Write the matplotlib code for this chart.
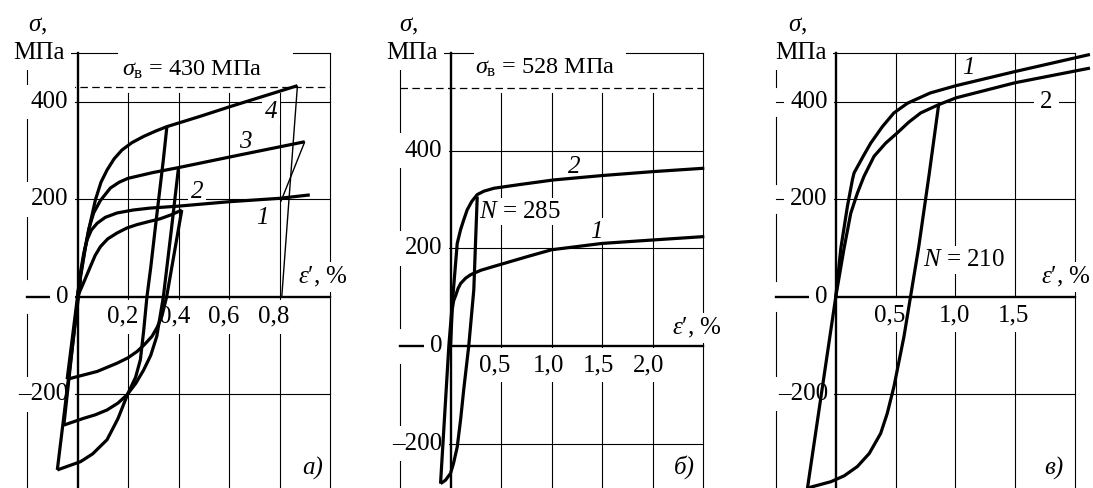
import numpy as np
import matplotlib.pyplot as plt

plt.rcParams['font.family'] = ['Liberation Serif', 'DejaVu Serif']
plt.rcParams['mathtext.fontset'] = 'custom'
plt.rcParams['mathtext.rm'] = 'Liberation Serif'
plt.rcParams['mathtext.it'] = 'Liberation Serif:italic'

# ---- panel a) : sigma_b = 430 MPa ----
a_c4_x = [0, 0.015, 0.032, 0.05, 0.071, 0.093, 0.117, 0.145, 0.176, 0.215, 0.262, 0.31, 0.354, 0.485, 0.604, 0.871]
a_c4_y = [0, 50, 103, 150, 199, 235, 260, 283, 301, 316, 329, 340, 349, 370, 390, 433]
a_c3_x = [0, 0.012, 0.03, 0.045, 0.064, 0.09, 0.13, 0.165, 0.2, 0.3, 0.40, 0.643, 0.90]
a_c3_y = [0, 45, 100, 140, 172, 197, 223, 235, 243, 255, 265, 291, 318]
a_c1_x = [0, 0.008, 0.015, 0.025, 0.038, 0.055, 0.078, 0.11, 0.157, 0.22, 0.288, 0.40, 0.6, 0.8, 0.92]
a_c1_y = [0, 35, 60, 90, 117, 137, 151, 163, 172, 178, 182, 186, 195, 202, 209]
a_c2_x = [0, 0.025, 0.051, 0.07, 0.091, 0.12, 0.157, 0.195, 0.235, 0.28, 0.327, 0.37, 0.413]
a_c2_y = [0, 30, 62, 85, 103, 119, 131, 141, 148, 154, 160, 168, 178]
# unloading / compression branches of the loops
a_d4_x = [0.354, 0.34, 0.31, 0.29, 0.275, 0.262, 0.249, 0.23, 0.2, 0.16, 0.117, 0.06, 0.012, -0.08]
a_d4_y = [349, 281, 150, 60, 0, -70, -129, -165, -198, -250, -293, -322, -338, -355]
a_d3_x = [0.40, 0.37, 0.34, 0.314, 0.29, 0.262, 0.23, 0.196, 0.16, 0.117, 0.07, 0.025, -0.054]
a_d3_y = [265, 130, 0, -81, -120, -150, -178, -201, -218, -232, -242, -249, -263]
a_d2_x = [0.413, 0.38, 0.353, 0.334, 0.315, 0.295, 0.265, 0.236, 0.2, 0.157, 0.078, -0.041]
a_d2_y = [178, 80, 0, -40, -63, -81, -98, -112, -125, -136, -153, -169]
# reloading lines from the loop vertices
a_r_x = [[-0.08, 0.012], [-0.054, 0.006], [-0.041, 0.0]]
a_r_y = [[-355, 35], [-263, 20], [-169, 0]]
# final unloading lines (thin)
a_u4_x, a_u4_y = [0.871, 0.809], [433, 0]
a_u3_x, a_u3_y = [0.90, 0.805], [318, 195]

# ---- panel b) : sigma_b = 528 MPa ----
b_c2_x = [-0.099, -0.017, 0.066, 0.099, 0.13, 0.165, 0.21, 0.264, 0.33, 0.43, 0.7, 1.02, 1.5, 2.0, 2.51]
b_c2_y = [-282, 0, 210, 238, 258, 279, 296, 310, 317, 323, 331, 340, 349, 357, 364]
b_d_x = [0.264, 0.248, 0.23, 0.18, 0.13, 0.1, 0.066, 0.03, 0.0, -0.05, -0.099]
b_d_y = [306, 217, 115, 0, -90, -150, -207, -240, -261, -275, -282]
b_c1_x = [0, 0.01, 0.017, 0.03, 0.05, 0.075, 0.1, 0.15, 0.2, 0.3, 0.43, 0.76, 1.0, 1.5, 2.0, 2.51]
b_c1_y = [0, 45, 75, 92, 103, 118, 128, 139, 146, 155, 163, 183, 197, 210, 217, 224]

# ---- panel v) ----
c_c1_x = [0, 0.042, 0.097, 0.139, 0.153, 0.236, 0.292, 0.39, 0.486, 0.6, 0.79, 1.006, 1.5, 2.125]
c_c1_y = [0, 99, 185, 240, 254, 291, 315, 349, 377, 397, 418, 433, 462, 497]
c_c2_x = [0, 0.069, 0.125, 0.18, 0.236, 0.32, 0.417, 0.514, 0.61, 0.71, 0.86, 1.006, 1.5, 2.125]
c_c2_y = [0, 99, 171, 212, 247, 288, 315, 336, 358, 377, 394, 408, 439, 469]
c_e_x, c_e_y = [-0.25, 0], [-415, 0]
c_d_x = [0.86, 0.78, 0.694, 0.625, 0.57, 0.486, 0.43, 0.375, 0.28, 0.18, 0.07, -0.04, -0.236]
c_d_y = [394, 250, 103, 0, -82, -185, -240, -281, -322, -349, -368, -380, -393]

yticks = [400, 200, 0, -200]

W, H = 1093, 488
fig = plt.figure(figsize=(W / 100, H / 100), dpi=100)
fig.patch.set_facecolor('white')

FS = 18
TFS = 17.5
EPS = r'$\varepsilon$′, %'
box = dict(fc='white', ec='none', pad=4.5)
sbox = dict(fc='white', ec='none', pad=2)


def make_ax(l_px, r_px, xlim, ylim):
    ax = fig.add_axes([l_px / W, 0, (r_px - l_px) / W, 435 / H])
    ax.set_xlim(xlim)
    ax.set_ylim(ylim)
    ax.axis('off')
    return ax


def frame(ax, xgrid, vtop, gap_h, top_gap=None, dash=None):
    x0, x1 = ax.get_xlim()
    y0, y1 = ax.get_ylim()
    kw = dict(color='black', lw=0.8, zorder=1, clip_on=False)
    for xv in xgrid:
        ax.plot([xv, xv], [y0, vtop], **kw)
    for yv in yticks:
        if yv != 0:
            ax.plot([x0, x1], [yv, yv], **kw)
    # left border, broken at the tick labels
    lo = y0
    for yv in sorted(yticks):
        ax.plot([x0, x0], [lo, yv - gap_h], **kw)
        lo = yv + gap_h
    ax.plot([x0, x0], [lo, y1], **kw)
    ax.plot([x1, x1], [y0, y1], **kw)
    if top_gap:
        ax.plot([x0, top_gap[0]], [y1, y1], **kw)
        ax.plot([top_gap[1], x1], [y1, y1], **kw)
    else:
        ax.plot([x0, x1], [y1, y1], **kw)
    if dash:
        ax.plot([dash[0], x1], [dash[1], dash[1]], color='black', lw=0.9,
                ls=(0, (6, 3.5)), zorder=1, clip_on=False)
    ax.plot([x0, x1], [0, 0], color='black', lw=1.7, zorder=3, clip_on=False)
    ax.plot([0, 0], [y0, y1], color='black', lw=1.7, zorder=4.5, clip_on=False)


def labels(ax, xt, xlab, xt_y, ylab_x, sig_xy, mpa_xy):
    for xv, s in zip(xt, xlab):
        ax.text(xv, xt_y, s, ha='center', va='center', fontsize=FS, zorder=2, bbox=box)
    for yv in yticks:
        s = str(yv).replace('-', '\u2013')
        ax.text(ylab_x, yv, s, ha='right', va='center', fontsize=FS, zorder=4, bbox=box)
    ax.text(sig_xy[0], sig_xy[1], r'$\sigma$,', ha='center', va='center', fontsize=FS)
    ax.text(mpa_xy[0], mpa_xy[1], 'МПа', ha='center', va='center', fontsize=FS,
            zorder=4, bbox=box)


def curve(ax, x, y, lw=2.3):
    ax.plot(x, y, color='black', lw=lw, zorder=5, solid_capstyle='butt',
            solid_joinstyle='round', clip_on=False)


def note(ax, x, y, s, italic=True, ha='center', b=sbox):
    ax.text(x, y, s, ha=ha, va='center', fontsize=FS, zorder=4, bbox=b,
            style='italic' if italic else 'normal')


# ---------------- a) ----------------
ax = make_ax(27, 330, (-0.2, 1.0), (-392, 500))
frame(ax, [0.2, 0.4, 0.6, 0.8], 418, 36, top_gap=(0.158, 0.852), dash=(-0.036, 430))
labels(ax, [0.178, 0.385, 0.58, 0.778], ['0,2', '0,4', '0,6', '0,8'], -41, -0.036,
       (-0.158, 556), (-0.154, 500))
ax.text(0.454, 466, r'$\sigma_{\mathrm{в}}$ = 430 МПа', ha='center', va='center', fontsize=TFS)
for x, y in [(a_c4_x, a_c4_y), (a_c3_x, a_c3_y), (a_c1_x, a_c1_y), (a_c2_x, a_c2_y),
             (a_d4_x, a_d4_y), (a_d3_x, a_d3_y), (a_d2_x, a_d2_y)]:
    curve(ax, x, y)
for x, y in zip(a_r_x, a_r_y):
    curve(ax, x, y)
curve(ax, a_u4_x, a_u4_y, lw=1.0)
curve(ax, a_u3_x, a_u3_y, lw=1.0)
for s, x, y in [('4', 0.768, 380), ('3', 0.663, 318), ('2', 0.473, 215), ('1', 0.734, 162)]:
    note(ax, x, y, s)
note(ax, 0.97, 41, EPS, italic=False)
note(ax, 0.93, -351, 'а)')

# ---------------- б) ----------------
ax = make_ax(400, 703.3, (-0.5, 2.5), (-291, 600))
frame(ax, [0.5, 1.0, 1.5, 2.0], 519, 36, top_gap=(0.218, 1.733), dash=(-0.5, 528))
labels(ax, [0.44, 0.97, 1.465, 1.955], ['0,5', '1,0', '1,5', '2,0'], -39, -0.08,
       (-0.416, 656), (-0.386, 600))
ax.text(0.94, 570, r'$\sigma_{\mathrm{в}}$ = 528 МПа', ha='center', va='center', fontsize=TFS)
curve(ax, b_c2_x, b_c2_y)
curve(ax, b_d_x, b_d_y)
curve(ax, b_c1_x, b_c1_y)
note(ax, 1.22, 367, '2')
note(ax, 1.44, 234, '1')
note(ax, 0.277, 275, r'$N$ = 285', italic=False, ha='left')
note(ax, 2.44, 37, EPS, italic=False)
note(ax, 2.31, -248, 'б)')

# ---------------- в) ----------------
ax = make_ax(776, 1075, (-0.5, 2.0), (-393, 500))
frame(ax, [0.5, 1.0, 1.5], 500, 31)
labels(ax, [0.45, 0.99, 1.49], ['0,5', '1,0', '1,5'], -38, -0.067,
       (-0.317, 556), (-0.29, 500))
curve(ax, c_c1_x, c_c1_y)
curve(ax, c_c2_x, c_c2_y)
curve(ax, c_e_x, c_e_y)
curve(ax, c_d_x, c_d_y)
note(ax, 1.11, 470, '1')
note(ax, 1.76, 400, '2', italic=False, b=box)
note(ax, 0.725, 75, r'$N$ = 210', italic=False, ha='left')
note(ax, 1.92, 40, EPS, italic=False)
note(ax, 1.82, -352, 'в)')

fig.savefig('out.png', dpi=100, facecolor='white')
